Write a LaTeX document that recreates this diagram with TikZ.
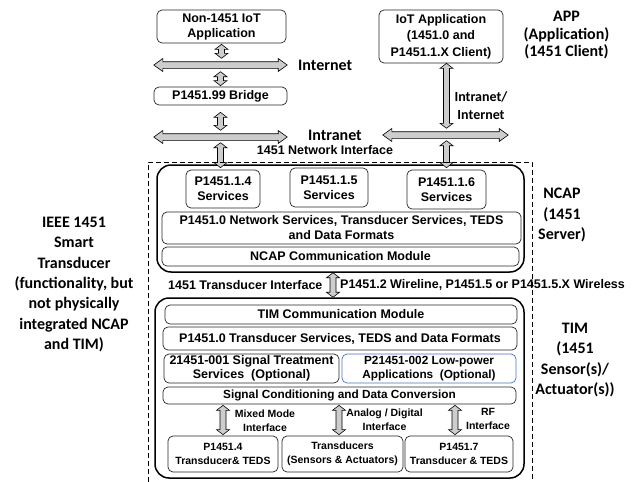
\documentclass[tikz,border=0pt]{standalone}
\usepackage{fontspec}
\setmainfont{Liberation Sans}
\newfontfamily\calfont{Carlito}
\usetikzlibrary{calc}
\definecolor{arrgray}{RGB}{205,205,205}
\definecolor{lpblue}{RGB}{68,114,196}
\newcommand\bxfont{\fontsize{12.5}{15}\selectfont\bfseries}
\newcommand\midfont{\fontsize{11.8}{14}\selectfont\bfseries}
\newcommand\smfont{\fontsize{10.5}{14}\selectfont\bfseries}
\newcommand\sidefont{\calfont\fontsize{16}{20.3}\selectfont\bfseries}
\newcommand\vdarrow[2]{\path[blockarrow] let \p1=#1, \p2=#2 in
  (\x1,\y1) -- (\x1+6.5pt,\y1-5pt) -- (\x1+3pt,\y1-5pt) -- (\x1+3pt,\y2+5pt) -- (\x1+6.5pt,\y2+5pt)
  -- (\x1,\y2) -- (\x1-6.5pt,\y2+5pt) -- (\x1-3pt,\y2+5pt) -- (\x1-3pt,\y1-5pt) -- (\x1-6.5pt,\y1-5pt) -- cycle;}
\newcommand\hdarrow[2]{\path[blockarrow] let \p1=#1, \p2=#2 in
  (\x1,\y1) -- (\x1+9pt,\y1+6.5pt) -- (\x1+9pt,\y1+3.3pt) -- (\x2-9pt,\y1+3.3pt) -- (\x2-9pt,\y1+6.5pt)
  -- (\x2,\y1) -- (\x2-9pt,\y1-6.5pt) -- (\x2-9pt,\y1-3.3pt) -- (\x1+9pt,\y1-3.3pt) -- (\x1+9pt,\y1-6.5pt) -- cycle;}
\tikzset{
  blockarrow/.style={draw=black, fill=arrgray, line width=0.6pt, line join=miter},
  bigbox/.style={draw=black, line width=1.5pt, rounded corners=14pt, inner sep=0pt},
  inbox/.style={draw=black!85, fill=white, line width=0.7pt, rounded corners=5pt, inner sep=0pt, align=center, font=\bxfont},
  busnode/.style={inner sep=0pt, minimum height=13pt},
  txt/.style={inner sep=0pt, align=center, font=\bxfont},
  smtxt/.style={inner sep=0pt, align=center, font=\smfont},
  sidelbl/.style={inner sep=0pt, align=center, font=\sidefont},
  buslbl/.style={inner sep=0pt, align=center, font=\calfont\fontsize{16}{18}\selectfont\bfseries},
  dashedframe/.style={draw=black, line width=0.9pt, dash pattern=on 5pt off 3pt}
}
\begin{document}
\begin{tikzpicture}[x=1pt,y=-1pt]
\useasboundingbox (0,0) rectangle (641,482);
% top application boxes
\node[inbox, minimum width=129pt, minimum height=33pt] (non) at (221.5,26.5) {Non-1451 IoT\\Application};
\node[inbox, minimum width=133pt, minimum height=18pt] (bridge) at (220.5,96) {P1451.99 Bridge};
\node[inbox, minimum width=124pt, minimum height=53pt, font=\fontsize{12.5}{16.5}\selectfont\bfseries] (app) at (441,36.5) {IoT Application\\(1451.0 and\\P1451.1.X Client)};
% buses
\node[busnode, minimum width=133pt] (inet) at (220.5,65) {};
\node[busnode, minimum width=133pt] (intraL) at (220.5,137) {};
\node[busnode, minimum width=125pt] (intraR) at (445.5,135) {};
% NCAP
\node[bigbox, minimum width=367pt, minimum height=107pt] (ncap) at (340.5,218.5) {};
\node[inbox, minimum width=74pt, minimum height=38pt] (p14) at (223,189) {P1451.1.4\\Services};
\node[inbox, minimum width=78pt, minimum height=39pt] (p15) at (329,187.5) {P1451.1.5\\Services};
\node[inbox, minimum width=79pt, minimum height=39pt] (p16) at (446.5,189.5) {P1451.1.6\\Services};
\node[inbox, minimum width=359pt, minimum height=32pt] (netsvc) at (341.5,228) {P1451.0 Network Services, Transducer Services, TEDS\\and Data Formats};
\node[inbox, minimum width=357pt, minimum height=19pt] (ncapcomm) at (340.5,256.5) {NCAP Communication Module};
% TIM
\node[bigbox, minimum width=369pt, minimum height=180pt] (tim) at (339.5,388) {};
\node[inbox, minimum width=352pt, minimum height=19pt] (timcomm) at (341,314.5) {TIM Communication Module};
\node[inbox, minimum width=354pt, minimum height=23pt] (tsvc) at (340,338.5) {P1451.0 Transducer Services, TEDS and Data Formats};
\node[inbox, minimum width=175pt, minimum height=29pt, font=\fontsize{12.5}{14}\selectfont\bfseries] (sigtreat) at (251.5,368.5) {21451-001 Signal Treatment\\Services\ \ (Optional)};
\node[inbox, draw=lpblue, minimum width=174pt, minimum height=29pt, font=\midfont] (lowpow) at (429,368.5) {P21451-002 Low-power\\Applications\ \ (Optional)};
\node[inbox, minimum width=353pt, minimum height=17pt, font=\midfont] (sigcond) at (339.5,395.5) {Signal Conditioning and Data Conversion};
\node[inbox, minimum width=110pt, minimum height=36pt, font=\smfont] (p144) at (223,454) {P1451.4\\Transducer\& TEDS};
\node[inbox, minimum width=121pt, minimum height=36pt, font=\smfont] (trans) at (342.5,454) {Transducers\\(Sensors \& Actuators)};
\node[inbox, minimum width=108pt, minimum height=36pt, font=\smfont] (p17) at (459,454) {P1451.7\\Transducer \& TEDS};
\coordinate (adx) at (339,420);
\coordinate (rfx) at (455,420);
\coordinate (tix) at (333,285);
% labels
\node[sidelbl, font=\calfont\fontsize{16}{17.5}\selectfont\bfseries] (applbl) at (566.5,35.5) {APP\\(Application)\\(1451 Client)};
\node[buslbl, anchor=west] (inetlbl) at (298,65) {Internet};
\node[buslbl, anchor=west] (intralbl) at (308,135) {Intranet};
\node[buslbl, font=\calfont\fontsize{14}{18}\selectfont\bfseries] (iilbl) at (481,106) {Intranet/\\Internet};
\node[txt] (nilbl) at (325,150) {1451 Network Interface};
\node[txt, anchor=west] (tilbl) at (168,285) {1451 Transducer Interface};
\node[txt, anchor=west] (wlbl) at (340,285) {P1451.2 Wireline, P1451.5 or P1451.5.X Wireless};
\node[sidelbl] (ncaplbl) at (562,215) {NCAP\\(1451\\Server)};
\node[sidelbl] (timlbl) at (575,360) {TIM\\(1451\\Sensor(s)/\\Actuator(s))};
\node[sidelbl] (ieeelbl) at (74,284.5) {IEEE 1451\\Smart\\Transducer\\(functionality, but\\not physically\\integrated NCAP\\and TIM)};
\node[smtxt] (mmlbl) at (265,421) {Mixed Mode\\Interface};
\node[smtxt] (adlbl) at (384.5,420) {Analog / Digital\\Interface};
\node[smtxt] (rflbl) at (488,419) {RF\\Interface};
% arrows
\hdarrow{(inet.west)}{(inet.east)}
\hdarrow{(intraL.west)}{(intraL.east)}
\hdarrow{(intraR.west)}{(intraR.east)}
\vdarrow{($(non.south)+(0,1)$)}{(inet.north)}
\vdarrow{(inet.south)}{($(bridge.north)+(0,-1)$)}
\vdarrow{($(bridge.south)+(0,7)$)}{(intraL.north)}
\vdarrow{($(intraL.south)+(0,-1)$)}{($(p14.north)+(0,-2)$)}
\vdarrow{(app.south -| p16.north)}{(intraR.north -| p16.north)}
\vdarrow{($(intraR.south -| p16.north)+(0,-1)$)}{($(p16.north)+(0,-2)$)}
\vdarrow{(ncap.south -| tix)}{(tim.north -| tix)}
\vdarrow{($(sigcond.south -| p144.north)+(0,1)$)}{($(p144.north)+(0,-1)$)}
\vdarrow{($(sigcond.south -| adx)+(0,1)$)}{($(trans.north -| adx)+(0,-1)$)}
\vdarrow{($(sigcond.south -| rfx)+(0,1)$)}{($(p17.north -| rfx)+(0,-1)$)}
% dashed frame
\coordinate (dfbl) at (148,482);
\coordinate (dftl) at (148,162);
\coordinate (dftr) at (532,162);
\coordinate (dfbr) at (532,482);
\draw[dashedframe] (dfbl) -- (dftl) -- (dftr) -- (dfbr);
\end{tikzpicture}
\end{document}
